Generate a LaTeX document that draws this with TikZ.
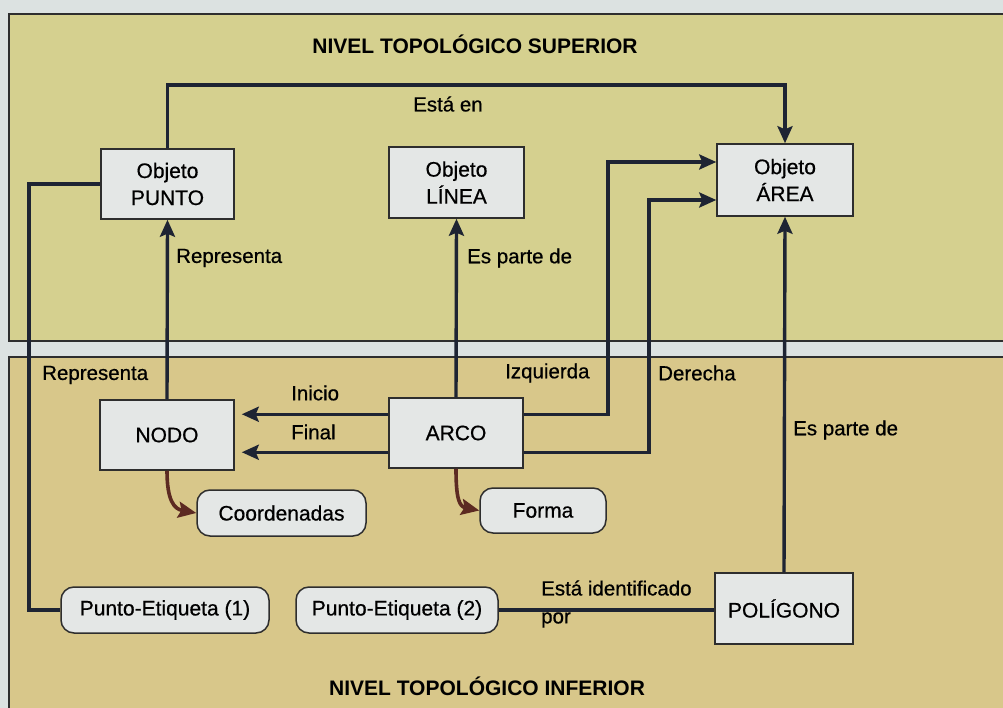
\documentclass[tikz,border=0pt]{standalone}
\usepackage{fontspec}
\setmainfont{Liberation Sans}
\newfontfamily\heavyfont[FakeBold=0.6]{Liberation Sans}
\usetikzlibrary{arrows.meta,calc}
\definecolor{bgc}{HTML}{DCE2E1}
\definecolor{topc}{HTML}{D5D08F}
\definecolor{lowc}{HTML}{D8C78A}
\definecolor{boxc}{HTML}{E4E7E6}
\definecolor{linec}{HTML}{1E2433}
\definecolor{brownc}{HTML}{5C2A22}
\definecolor{bordc}{HTML}{2E2E2E}
\tikzset{
  panel/.style={draw=bordc, line width=1.6pt},
  sqbox/.style={draw=bordc, fill=boxc, line width=1.5pt, minimum width=134pt, minimum height=70pt, inner sep=0pt, align=center, font=\heavyfont\fontsize{21}{27}\selectfont, text=black},
  rbox/.style={draw=bordc, fill=boxc, line width=1.5pt, rounded corners=13pt, minimum height=46pt, inner sep=0pt, align=center, font=\heavyfont\fontsize{21}{27}\selectfont, text=black},
  conn/.style={draw=linec, line width=3.4pt},
  arr/.style={conn, -{Stealth[length=17pt,width=15pt,inset=3pt]}},
  barr/.style={draw=brownc, line width=3.6pt, -{Stealth[length=18pt,width=16pt,inset=3pt]}},
  lbl/.style={font=\heavyfont\fontsize{20.5}{24}\selectfont, text=black, inner sep=0pt, anchor=west},
  ttl/.style={font=\bfseries\fontsize{21}{24}\selectfont, text=black, inner sep=0pt}
}
\begin{document}
\begin{tikzpicture}[x=1pt,y=-1pt]
\useasboundingbox (0,0) rectangle (1003,708);
\fill[bgc] (0,0) rectangle (1003,708);
\filldraw[panel, fill=topc] (9,14) rectangle (1012,341);
\filldraw[panel, fill=lowc] (9,357) rectangle (1012,715);

\node[ttl] (tsup) at (475,44) {NIVEL TOPOLÓGICO SUPERIOR};
\node[ttl] (tinf) at (487,686) {NIVEL TOPOLÓGICO INFERIOR};

\node[sqbox, minimum width=133pt] (punto) at (167.5,184) {Objeto\\PUNTO};
\node[sqbox, minimum width=135pt, minimum height=71pt] (linea) at (456.5,182.5) {Objeto\\LÍNEA};
\node[sqbox, minimum width=136pt, minimum height=72pt] (area) at (785,180) {Objeto\\ÁREA};
\node[sqbox] (nodo) at (167,435) {NODO};
\node[sqbox] (arco) at (456,433) {ARCO};
\node[sqbox, minimum width=138pt, minimum height=71pt] (poli) at (784,608.5) {POLÍGONO};
\node[rbox, minimum width=169pt] (coord) at (281.5,513) {Coordenadas};
\node[rbox, minimum width=126pt, minimum height=45pt] (forma) at (543,510.5) {Forma};
\node[rbox, minimum width=208pt] (pe1) at (165,610) {Punto-Etiqueta (1)};
\node[rbox, minimum width=202pt] (pe2) at (397,610) {Punto-Etiqueta (2)};

% Está en
\coordinate (topy) at (0,85);
\draw[arr] (punto.north) -- (punto.north |- topy) -- (area.north |- topy) -- (area.north);
\node[lbl] (lesta) at (413,104) {Está en};

% Representa (NODO -> PUNTO)
\draw[arr] (nodo.north) -- (punto.south);
\node[lbl] (lrep1) at (176,258) {Representa};

% Punto-Etiqueta (1) -> PUNTO
\coordinate (lx) at (29,0);
\draw[conn] (pe1.west) -| (lx |- punto.west) -- (punto.west);
\node[lbl] (lrep2) at (42,375) {Representa};

% ARCO -> LÍNEA
\draw[arr] (arco.north) -- (linea.south);
\node[lbl] (lpar1) at (467,258) {Es parte de};

% Izquierda / Derecha
\coordinate (a1) at ($(arco.north east)+(0,17)$);
\coordinate (a2) at ($(arco.north east)+(0,55)$);
\coordinate (b1) at ($(arco.north west)+(0,17)$);
\coordinate (b2) at ($(arco.north west)+(0,55)$);
\coordinate (izq) at (608,162);
\coordinate (der) at (649,200);
\draw[arr] (a1) -| (izq) -- (izq -| area.west);
\draw[arr] (a2) -| (der) -- (der -| area.west);
\node[lbl] (lizq) at (505,373) {Izquierda};
\node[lbl] (lder) at (658,373) {Derecha};

% Inicio / Final
\draw[arr, shorten >=7pt] (b1) -- (b1 -| nodo.east);
\draw[arr, shorten >=7pt] (b2) -- (b2 -| nodo.east);
\node[lbl] (lini) at (291,393) {Inicio};
\node[lbl] (lfin) at (291,432) {Final};

% brown curved arrows
\draw[barr] (nodo.south) .. controls ($(nodo.south)+(0,30)$) and ($(coord.west)+(-22,-4)$) .. (coord.west);
\draw[barr] (arco.south) .. controls ($(arco.south)+(0,30)$) and ($(forma.west)+(-20,-4)$) .. (forma.west);

% POLÍGONO -> ÁREA
\draw[arr] (poli.north) -- (area.south);
\node[lbl] (lpar2) at (793,430) {Es parte de};

% POLÍGONO -- Punto-Etiqueta (2)
\draw[conn] (pe2.east) -- (pe2.east -| poli.west);
\node[lbl] (lid1) at (541,588) {Está identificado};
\node[lbl] (lid2) at (541,620) {por};
\end{tikzpicture}
\end{document}
